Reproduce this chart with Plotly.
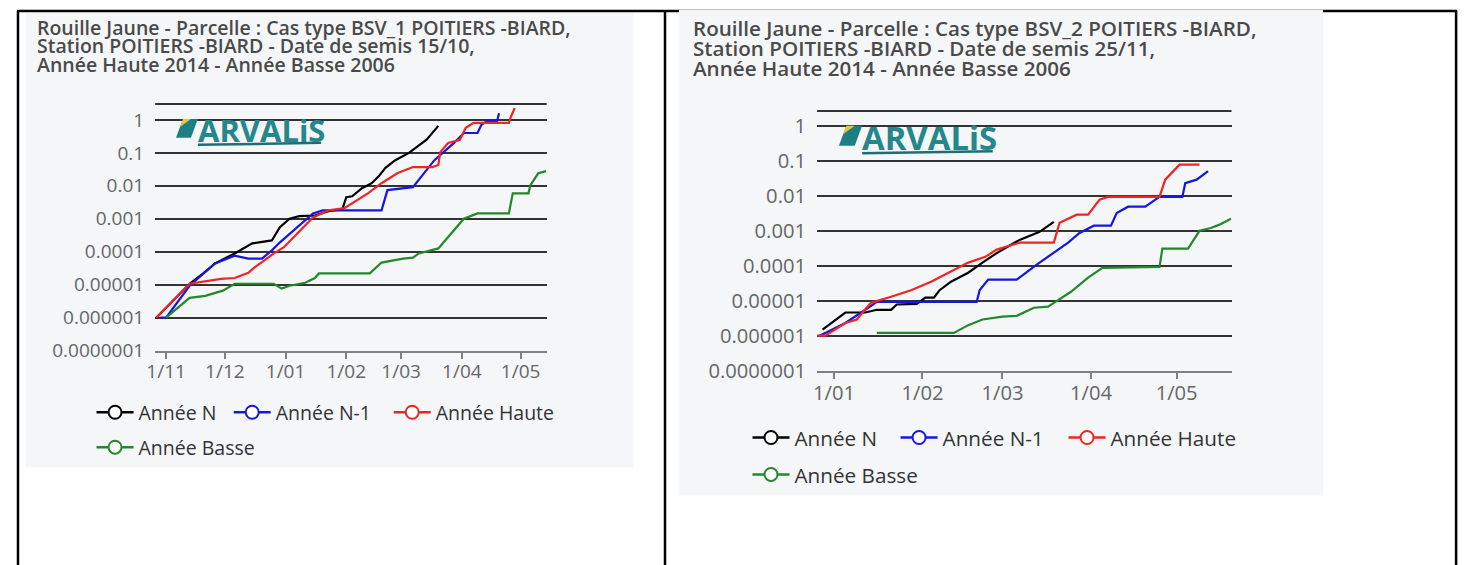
import plotly.graph_objects as go

W, H = 1467, 565

# ---------- Cas type BSV_1 - semis 15/10 ----------
bsv1_n_dates = ["2022-10-27", "2022-11-13", "2022-11-20", "2022-11-26", "2022-12-06", "2022-12-15",
                "2022-12-25", "2022-12-29", "2023-01-03", "2023-01-08", "2023-01-16", "2023-01-23",
                "2023-01-30", "2023-02-01", "2023-02-04", "2023-02-09", "2023-02-14", "2023-02-18",
                "2023-02-21", "2023-02-26", "2023-03-05", "2023-03-10", "2023-03-14", "2023-03-20"]
bsv1_n = [1e-6, 1.07e-5, 2.2e-5, 4.4e-5, 8.9e-5, 1.8e-4, 2.2e-4, 5.5e-4, 1.0e-3, 1.2e-3, 1.26e-3, 1.7e-3,
          1.95e-3, 4.5e-3, 4.8e-3, 8.5e-3, 0.012, 0.021, 0.035, 0.06, 0.1, 0.17, 0.25, 0.66]

bsv1_n1_dates = ["2022-10-29", "2022-11-01", "2022-11-13", "2022-11-26", "2022-12-06", "2022-12-13",
                 "2022-12-20", "2022-12-25", "2022-12-29", "2023-01-03", "2023-01-10", "2023-01-15",
                 "2023-01-20", "2023-02-19", "2023-02-22", "2023-03-07", "2023-03-18", "2023-03-28",
                 "2023-04-02", "2023-04-09", "2023-04-11", "2023-04-14", "2023-04-19", "2023-04-20"]
bsv1_n1 = [1e-6, 1e-6, 9.3e-6, 4.4e-5, 7.6e-5, 6.2e-5, 6.2e-5, 1.1e-4, 1.9e-4, 3.5e-4, 7.8e-4, 1.45e-3,
           1.8e-3, 1.8e-3, 7.4e-3, 9.1e-3, 0.06, 0.2, 0.4, 0.4, 0.71, 0.93, 0.93, 1.6]

bsv1_haute_dates = ["2022-10-27", "2022-11-13", "2022-11-29", "2022-12-06", "2022-12-13", "2022-12-16",
                    "2022-12-21", "2022-12-26", "2022-12-31", "2023-01-05", "2023-01-10", "2023-01-15",
                    "2023-01-23", "2023-01-31", "2023-02-12", "2023-02-19", "2023-02-27", "2023-03-07",
                    "2023-03-17", "2023-03-20", "2023-03-21", "2023-03-25", "2023-03-31", "2023-04-03",
                    "2023-04-07", "2023-04-25", "2023-04-26", "2023-04-28"]
bsv1_haute = [1e-6, 1.07e-5, 1.5e-5, 1.6e-5, 2.3e-5, 3.3e-5, 5.4e-5, 8.9e-5, 1.35e-4, 2.7e-4, 5.5e-4,
              1.1e-3, 1.8e-3, 2.1e-3, 5.9e-3, 0.012, 0.024, 0.037, 0.037, 0.043, 0.105, 0.2, 0.25, 0.58,
              0.81, 0.81, 1.23, 2.3]

bsv1_basse_dates = ["2022-11-01", "2022-11-13", "2022-11-21", "2022-11-30", "2022-12-06", "2022-12-26",
                    "2022-12-30", "2023-01-03", "2023-01-11", "2023-01-16", "2023-01-18", "2023-02-13",
                    "2023-02-19", "2023-03-02", "2023-03-07", "2023-03-10", "2023-03-20", "2023-04-02",
                    "2023-04-09", "2023-04-25", "2023-04-27", "2023-05-05", "2023-05-06", "2023-05-10",
                    "2023-05-14"]
bsv1_basse = [1e-6, 4.0e-6, 4.6e-6, 6.6e-6, 1.07e-5, 1.07e-5, 7.6e-6, 9.3e-6, 1.15e-5, 1.6e-5, 2.2e-5,
              2.2e-5, 4.7e-5, 6.2e-5, 6.6e-5, 8.9e-5, 1.26e-4, 1.0e-3, 1.45e-3, 1.45e-3, 5.9e-3, 5.9e-3,
              0.0105, 0.024, 0.028]

# ---------- Cas type BSV_2 - semis 25/11 ----------
bsv2_n_dates = ["2022-12-28", "2023-01-05", "2023-01-12", "2023-01-16", "2023-01-21", "2023-01-23",
                "2023-01-30", "2023-02-02", "2023-02-05", "2023-02-07", "2023-02-11", "2023-02-14",
                "2023-02-17", "2023-02-22", "2023-02-27", "2023-03-04", "2023-03-07", "2023-03-14",
                "2023-03-19"]
bsv2_n = [1.5e-6, 4.6e-6, 4.6e-6, 5.5e-6, 5.5e-6, 7.8e-6, 8.1e-6, 1.23e-5, 1.23e-5, 2.0e-5, 3.5e-5,
          4.6e-5, 6.3e-5, 1.23e-4, 2.3e-4, 4.0e-4, 5.5e-4, 9.3e-4, 1.8e-3]

bsv2_n1_dates = ["2022-12-27", "2023-01-05", "2023-01-12", "2023-01-16", "2023-02-20", "2023-02-21",
                 "2023-02-24", "2023-03-06", "2023-03-13", "2023-03-19", "2023-03-24", "2023-03-28",
                 "2023-04-02", "2023-04-08", "2023-04-10", "2023-04-14", "2023-04-20", "2023-04-25",
                 "2023-05-03", "2023-05-04", "2023-05-08", "2023-05-12"]
bsv2_n1 = [1e-6, 2.3e-6, 5.5e-6, 9.3e-6, 9.3e-6, 2.0e-5, 4.0e-5, 4.0e-5, 1.07e-4, 2.3e-4, 4.6e-4,
           8.7e-4, 1.4e-3, 1.4e-3, 3.2e-3, 4.9e-3, 4.9e-3, 9.3e-3, 9.3e-3, 0.023, 0.029, 0.051]

bsv2_haute_dates = ["2022-12-26", "2022-12-29", "2023-01-05", "2023-01-09", "2023-01-11", "2023-01-14",
                    "2023-01-21", "2023-01-28", "2023-02-04", "2023-02-11", "2023-02-17", "2023-02-23",
                    "2023-02-27", "2023-03-07", "2023-03-19", "2023-03-21", "2023-03-27", "2023-03-31",
                    "2023-04-04", "2023-04-07", "2023-04-25", "2023-04-27", "2023-05-02", "2023-05-09"]
bsv2_haute = [1e-6, 1e-6, 2.3e-6, 2.9e-6, 4.6e-6, 8.7e-6, 1.3e-5, 2.0e-5, 3.5e-5, 6.8e-5, 1.23e-4,
              1.8e-4, 2.9e-4, 4.6e-4, 4.6e-4, 1.7e-3, 2.9e-3, 2.9e-3, 7.8e-3, 9.3e-3, 9.3e-3, 0.029,
              0.078, 0.078]

bsv2_basse_dates = ["2023-01-16", "2023-02-12", "2023-02-17", "2023-02-22", "2023-03-01", "2023-03-06",
                    "2023-03-12", "2023-03-17", "2023-03-19", "2023-03-25", "2023-03-31", "2023-04-05",
                    "2023-04-25", "2023-04-26", "2023-05-05", "2023-05-09", "2023-05-13", "2023-05-16",
                    "2023-05-20"]
bsv2_basse = [1.2e-6, 1.2e-6, 2.0e-6, 2.9e-6, 3.5e-6, 3.7e-6, 6.3e-6, 6.8e-6, 8.7e-6, 1.8e-5, 4.6e-5,
              8.7e-5, 9.3e-5, 3.1e-4, 3.1e-4, 1.0e-3, 1.2e-3, 1.5e-3, 2.2e-3]

series_names = ["Année N", "Année N-1", "Année Haute", "Année Basse"]
series_colors = ["#000000", "#1616e0", "#f02424", "#23882b"]

y_tickvals = [1e-7, 1e-6, 1e-5, 1e-4, 1e-3, 1e-2, 1e-1, 1]
y_ticktext = ["0.0000001", "0.000001", "0.00001", "0.0001", "0.001", "0.01", "0.1", "1"]

title_1 = ["Rouille Jaune - Parcelle : Cas type BSV_1 POITIERS -BIARD,",
           "Station POITIERS -BIARD - Date de semis 15/10,",
           "Année Haute 2014 - Année Basse 2006"]
title_2 = ["Rouille Jaune - Parcelle : Cas type BSV_2 POITIERS -BIARD,",
           "Station POITIERS -BIARD - Date de semis 25/11,",
           "Année Haute 2014 - Année Basse 2006"]

BG = "#f4f6f8"
FONT = "Open Sans"
# the page shows the figure shifted and slightly squeezed vertically; map target px -> figure
OX, OY, SY = 13, 7, 0.978


def fx(x):
    return (x - OX) / W


def fy(y):
    return 1 - (y - OY) / SY / H


panels = [
    dict(series=[(bsv1_n_dates, bsv1_n), (bsv1_n1_dates, bsv1_n1),
                 (bsv1_haute_dates, bsv1_haute), (bsv1_basse_dates, bsv1_basse)],
         title=title_1, title_x=31, box=(22, 12, 633, 467), plot=(152, 103, 546, 350),
         xrange=["2022-10-26 10:00", "2023-05-14 08:00"], ytop=0.485,
         title_y=[27, 45, 64], title_size=19.5, tick_size=19, leg_size=19.5,
         legend_pos=[(88, 412), (226, 412), (387, 412), (88, 447)],
         logo=(173, 137, 1.0)),
    dict(series=[(bsv2_n_dates, bsv2_n), (bsv2_n1_dates, bsv2_n1),
                 (bsv2_haute_dates, bsv2_haute), (bsv2_basse_dates, bsv2_basse)],
         title=title_2, title_x=691, box=(679, 9, 1327, 495), plot=(818, 110, 1235, 370),
         xrange=["2022-12-26 02:00", "2023-05-20 05:00"], ytop=0.43,
         title_y=[27, 47, 67], title_size=20.6, tick_size=20.2, leg_size=20.7,
         legend_pos=[(748, 437), (897, 437), (1066, 437), (748, 474)],
         logo=(840, 145, 1.06)),
]

fig = go.Figure()
shapes = []
annotations = []

# table borders
for x0, y0, x1, y1 in [(OX, 10, 1462, 10), (OX + 1, 10, OX + 1, 580), (665, 10, 665, 580),
                       (1461, 10, 1461, 580)]:
    shapes.append(dict(type="line", xref="paper", yref="paper", x0=fx(x0), y0=fy(y0), x1=fx(x1), y1=fy(y1),
                       line=dict(color="black", width=2.5), layer="below"))

leg_n = 0
for i, p in enumerate(panels):
    xa = "x" if i == 0 else "x2"
    ya = "y" if i == 0 else "y2"
    bx0, by0, bx1, by1 = p["box"]
    shapes.append(dict(type="rect", xref="paper", yref="paper", x0=fx(bx0), y0=fy(by1), x1=fx(bx1), y1=fy(by0),
                       fillcolor=BG, line=dict(width=0), layer="below"))
    # top gridline of the plot area
    shapes.append(dict(type="line", xref=xa + " domain", yref=ya + " domain", x0=0, x1=1, y0=1, y1=1,
                       line=dict(color="#333333", width=2)))

    for line, ty in zip(p["title"], p["title_y"]):
        annotations.append(dict(text=line, xref="paper", yref="paper", x=fx(p["title_x"]), y=fy(ty),
                                xanchor="left", yanchor="middle", showarrow=False,
                                font=dict(family=FONT, size=p["title_size"], color="#4a4a4a", weight=600)))

    # ARVALIS logo
    lx, ly, s = p["logo"]
    leaf = [(lx, ly), (lx + 7 * s, ly - 19 * s), (lx + 22 * s, ly - 19 * s), (lx + 15 * s, ly)]
    path = "M " + " L ".join(f"{fx(a)},{fy(b)}" for a, b in leaf) + " Z"
    shapes.append(dict(type="path", xref="paper", yref="paper", path=path, fillcolor="#1c7f83",
                       line=dict(width=0)))
    tri = [(lx + 7 * s, ly - 19 * s), (lx + 15 * s, ly - 19 * s), (lx + 4 * s, ly - 11 * s)]
    path = "M " + " L ".join(f"{fx(a)},{fy(b)}" for a, b in tri) + " Z"
    shapes.append(dict(type="path", xref="paper", yref="paper", path=path, fillcolor="#e6c53c",
                       line=dict(width=0)))
    shapes.append(dict(type="line", xref="paper", yref="paper", x0=fx(lx + 22 * s), y0=fy(ly + 7 * s),
                       x1=fx(lx + 146 * s), y1=fy(ly + 5 * s), line=dict(color="#1d6f73", width=2.5)))
    annotations.append(dict(text="ARVALiS", xref="paper", yref="paper", x=fx(lx + 20 * s), y=fy(ly - 8 * s),
                            xanchor="left", yanchor="middle", showarrow=False,
                            font=dict(family=FONT, size=31 * s, color="#23878b", weight=700)))

    for (dates, vals), name, color in zip(p["series"], series_names, series_colors):
        fig.add_trace(go.Scatter(x=dates, y=vals, mode="lines", name=name, showlegend=False,
                                 line=dict(color=color, width=2.2), xaxis=xa, yaxis=ya, hoverinfo="skip"))

    for (lx_, ly_), name, color in zip(p["legend_pos"], series_names, series_colors):
        leg_n += 1
        key = "legend" if leg_n == 1 else f"legend{leg_n}"
        fig.add_trace(go.Scatter(x=[None], y=[None], mode="lines+markers", name=name, legend=key,
                                 line=dict(color=color, width=2.5),
                                 marker=dict(size=13, color="white", line=dict(color=color, width=2)),
                                 xaxis=xa, yaxis=ya))
        fig.update_layout({key: dict(x=fx(lx_), y=fy(ly_), xanchor="left", yanchor="middle",
                                     orientation="h", bgcolor="rgba(0,0,0,0)", itemwidth=37,
                                     font=dict(family=FONT, size=p["leg_size"], color="#333333"))})

    px0, py0, px1, py1 = p["plot"]
    fig.update_layout({
        ("xaxis" if i == 0 else "xaxis2"): dict(
            domain=[fx(px0), fx(px1)], anchor=ya, type="date", range=p["xrange"],
            tickformat="%-d/%m", dtick="M1", tick0="2022-11-01", showgrid=False,
            showline=True, linecolor="#808080", linewidth=2,
            ticks="outside", ticklen=6, tickwidth=1.5, tickcolor="#808080",
            tickfont=dict(family=FONT, size=p["tick_size"], color="#666666"), ticklabelstandoff=-3),
        ("yaxis" if i == 0 else "yaxis2"): dict(
            domain=[fy(py1), fy(py0)], anchor=xa, type="log", range=[-7, p["ytop"]],
            tickvals=y_tickvals, ticktext=y_ticktext, showgrid=True, gridcolor="#333333", gridwidth=2,
            zeroline=False, showline=False, ticks="",
            tickfont=dict(family=FONT, size=p["tick_size"], color="#666666"), ticklabelstandoff=10),
    })

fig.update_layout(width=W, height=H, margin=dict(l=0, r=0, t=0, b=0),
                  paper_bgcolor="white", plot_bgcolor=BG, shapes=shapes, annotations=annotations,
                  hovermode=False)

fig.write_html("out.html")
